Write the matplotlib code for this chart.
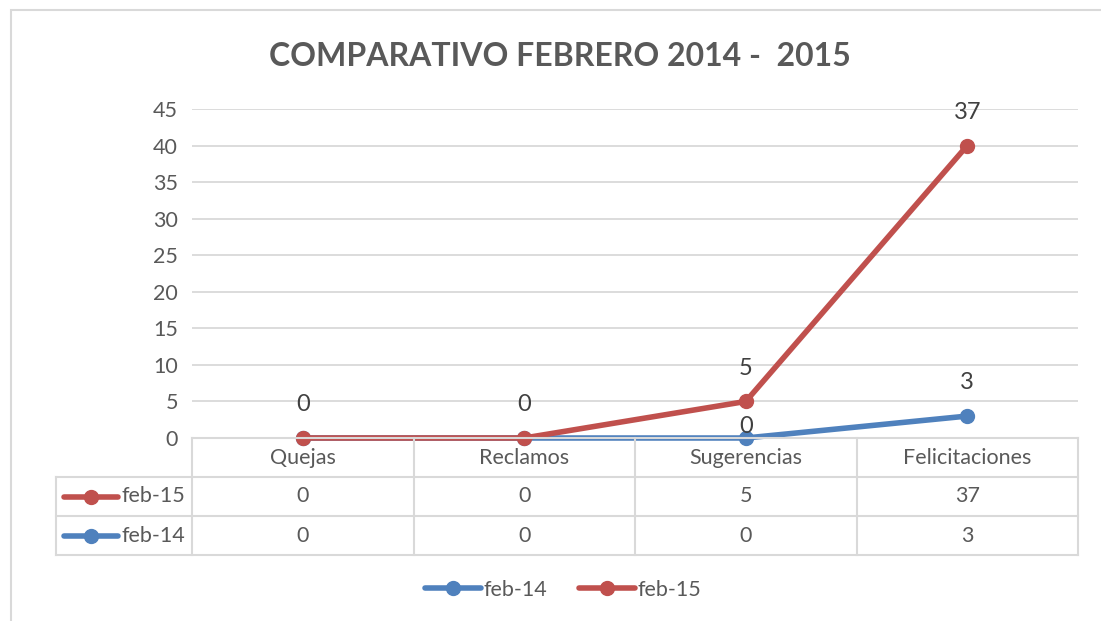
import matplotlib
matplotlib.use("Agg")
import matplotlib.pyplot as plt
from matplotlib.lines import Line2D
from matplotlib.patches import Rectangle

plt.rcParams['font.family'] = ['Lato', 'DejaVu Sans']

# datos
categorias = ["Quejas", "Reclamos", "Sugerencias", "Felicitaciones"]
feb14 = [0, 0, 0, 3]
feb15 = [0, 0, 5, 40]          # valores tal como se ven en el grafico
feb15_tabla = [0, 0, 5, 37]    # valores de la tabla / etiquetas
feb14_tabla = [0, 0, 0, 3]
yticks = list(range(0, 50, 5))

AZUL = "#4F81BD"
ROJO = "#C0504D"
GRIS_TXT = "#595959"
GRIS_LIN = "#D9D9D9"
FS = 15.5

W, H = 1101, 621
fig = plt.figure(figsize=(W / 100, H / 100), dpi=100)

# marco del grafico
fig.patches.append(Rectangle((11 / W, -0.01), 1.0, (H - 10) / H + 0.01,
                             transform=fig.transFigure, fill=False,
                             edgecolor=GRIS_LIN, lw=1.5))

fig.text(560 / W, 1 - 57 / H, "COMPARATIVO FEBRERO 2014 -  2015",
         ha="center", va="center", fontsize=23, fontweight="bold", color=GRIS_TXT)

# area de trazado
x0, x1, ytop, ybot = 192, 1078, 109, 438
ax = fig.add_axes([x0 / W, 1 - ybot / H, (x1 - x0) / W, (ybot - ytop) / H])
x = list(range(len(categorias)))
ax.set_xlim(-0.5, len(categorias) - 0.5)
ax.set_ylim(0, 45)
ax.set_yticks(yticks)
ax.tick_params(axis="y", length=0, labelsize=FS, labelcolor=GRIS_TXT, pad=10)
ax.set_xticks([])
for s in ax.spines.values():
    s.set_visible(False)
ax.grid(axis="y", color=GRIS_LIN, lw=1.3)
ax.set_axisbelow(True)

ax.plot(x, feb14, color=AZUL, lw=4, marker="o", ms=10, label="feb-14",
        solid_capstyle="round", clip_on=False, zorder=3)
ax.plot(x, feb15, color=ROJO, lw=4, marker="o", ms=10, label="feb-15",
        solid_capstyle="round", clip_on=False, zorder=4)

# etiquetas de datos
for i, (v, t) in enumerate(zip(feb15, feb15_tabla)):
    ax.annotate(str(t), (i, v), xytext=(0, 24), textcoords="offset points",
                ha="center", va="center", fontsize=17, color="#404040",
                annotation_clip=False)
for i, (v, t) in enumerate(zip(feb14, feb14_tabla)):
    if i < 2:
        continue  # coinciden con las del feb-15
    dy = 8 if i == 2 else 24
    ax.annotate(str(t), (i, v), xytext=(0, dy), textcoords="offset points",
                ha="center", va="center", fontsize=17, color="#404040",
                annotation_clip=False, zorder=5)

# tabla de datos
tb = 555
tax = fig.add_axes([x0 / W, 1 - tb / H, (x1 - x0) / W, (tb - ybot) / H])
tax.set_xlim(-0.5, len(categorias) - 0.5)
tax.set_ylim(0, 3)
tax.axis("off")
cw = (x1 - x0) / len(categorias)
xl = -0.5 - (x0 - 56) / cw
kw = dict(color=GRIS_LIN, lw=1.5, clip_on=False)
tax.plot([-0.5, 3.5], [3, 3], **kw)
for yy in (0, 1, 2):
    tax.plot([xl, 3.5], [yy, yy], **kw)
for xx in [-0.5, 0.5, 1.5, 2.5, 3.5]:
    tax.plot([xx, xx], [0, 3], **kw)
tax.plot([xl, xl], [0, 2], **kw)

for i, c in enumerate(categorias):
    tax.text(i, 2.5, c, ha="center", va="center", fontsize=FS, color=GRIS_TXT)
    tax.text(i, 1.5, str(feb15_tabla[i]), ha="center", va="center", fontsize=FS, color=GRIS_TXT)
    tax.text(i, 0.5, str(feb14_tabla[i]), ha="center", va="center", fontsize=FS, color=GRIS_TXT)

for yy, col, nom in [(1.5, ROJO, "feb-15"), (0.5, AZUL, "feb-14")]:
    lx = [xl + 8 / cw, xl + 62 / cw]
    tax.add_line(Line2D(lx, [yy, yy], color=col, lw=4, solid_capstyle="round", clip_on=False))
    tax.plot([sum(lx) / 2], [yy], "o", color=col, ms=10, clip_on=False)
    tax.text(xl + 65 / cw, yy, nom, ha="left", va="center", fontsize=FS, color=GRIS_TXT)

# leyenda
fig.legend(handles=ax.get_lines(), labels=["feb-14", "feb-15"], loc="center",
           bbox_to_anchor=(563 / W, 1 - 590 / H), ncol=2, frameon=False,
           fontsize=FS, labelcolor=GRIS_TXT, handlelength=2.6, handletextpad=0.1,
           columnspacing=1.5)

fig.savefig("out.png", dpi=100)
